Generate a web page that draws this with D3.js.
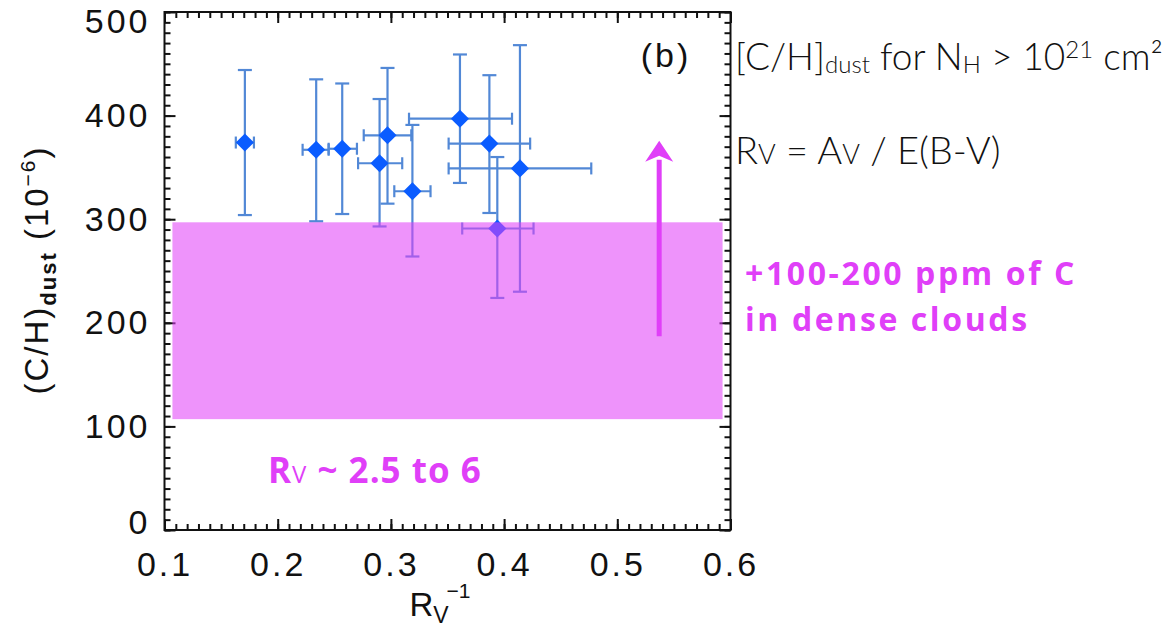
<!DOCTYPE html>
<html>
<head>
<meta charset="utf-8">
<script src="https://cdn.jsdelivr.net/npm/d3@7"></script>
<style>
  html, body { margin: 0; padding: 0; background: #ffffff; }
  svg { display: block; }
</style>
</head>
<body>
<svg id="chart" width="1171" height="632"></svg>
<script>
// Dust-phase carbon abundance against inverse R_V
const rvInv   = [0.171, 0.234, 0.257, 0.290, 0.297, 0.319, 0.361, 0.387, 0.394, 0.414];
const chDust  = [374, 367, 368, 354, 381, 327, 397, 373, 291, 349];
const chLow   = [304, 298, 305, 293, 315, 264, 335, 306, 224, 230];
const chHigh  = [444, 435, 431, 416, 446, 391, 459, 439, 360, 468];
const rvLow   = [0.163, 0.222, 0.245, 0.271, 0.276, 0.303, 0.316, 0.351, 0.363, 0.351];
const rvHigh  = [0.179, 0.245, 0.270, 0.310, 0.318, 0.335, 0.407, 0.423, 0.426, 0.477];

// Shaded range of dense-cloud carbon and the arrow beside it
const bandX = [0.107, 0.593];
const bandY = [107, 297];
const arrowX = 0.537;
const arrowY = [187, 369];

const xTicks = [0.1, 0.2, 0.3, 0.4, 0.5, 0.6];
const yTicks = [0, 100, 200, 300, 400, 500];

const svg = d3.select("#chart");
const x = d3.scaleLinear().domain([0.1, 0.6]).range([164.5, 730.5]);
const y = d3.scaleLinear().domain([0, 500]).range([530, 12]);

const magenta = "#e03ff8";
const barColor = "#5288d6";
const diamondColor = "#0a5cff";

// frame
svg.append("rect")
  .attr("x", x(0.1)).attr("y", y(500))
  .attr("width", x(0.6) - x(0.1)).attr("height", y(0) - y(500))
  .attr("fill", "none").attr("stroke", "#111").attr("stroke-width", 2);

const minorX = d3.range(0, 51).map(i => 0.1 + i * 0.01);
const minorY = d3.range(0, 51).map(i => i * 10);

function axisGroup(axis, tx, ty) {
  const g = svg.append("g").attr("transform", `translate(${tx},${ty})`).call(axis);
  g.select(".domain").remove();
  g.selectAll(".tick line").attr("stroke", "#111").attr("stroke-width", 2);
  return g;
}

// minor ticks, all four sides
axisGroup(d3.axisBottom(x).tickValues(minorX).tickSize(-6).tickFormat(""), 0, y(0));
axisGroup(d3.axisTop(x).tickValues(minorX).tickSize(-6).tickFormat(""), 0, y(500));
axisGroup(d3.axisLeft(y).tickValues(minorY).tickSize(-6).tickFormat(""), x(0.1), 0);
axisGroup(d3.axisRight(y).tickValues(minorY).tickSize(-6).tickFormat(""), x(0.6), 0);

// major ticks with labels on bottom and left
const fontAxis = "'Liberation Sans', Arial, sans-serif";
const gxb = axisGroup(d3.axisBottom(x).tickValues(xTicks).tickSize(-11).tickPadding(22).tickFormat(d3.format(".1f")), 0, y(0));
gxb.selectAll("text").attr("font-size", 34).attr("font-family", fontAxis).attr("fill", "#111").attr("letter-spacing", 3);
axisGroup(d3.axisTop(x).tickValues(xTicks).tickSize(-11).tickFormat(""), 0, y(500));
const gyl = axisGroup(d3.axisLeft(y).tickValues(yTicks).tickSize(-11).tickPadding(14).tickFormat(d3.format("d")), x(0.1), 0);
gyl.selectAll("text").attr("font-size", 34).attr("font-family", fontAxis).attr("fill", "#111").attr("letter-spacing", 3)
  .attr("transform", d => d === 500 ? "translate(0,10)" : d === 0 ? "translate(0,-7)" : null);
axisGroup(d3.axisRight(y).tickValues(yTicks).tickSize(-11).tickFormat(""), x(0.6), 0);

// error bars and markers
const pts = rvInv.map((v, i) => ({ x: v, y: chDust[i], ylo: chLow[i], yhi: chHigh[i], xlo: rvLow[i], xhi: rvHigh[i] }));
const eb = svg.append("g").attr("stroke", barColor).attr("stroke-width", 2.2).attr("fill", "none");
pts.forEach(p => {
  eb.append("line").attr("x1", x(p.x)).attr("x2", x(p.x)).attr("y1", y(p.ylo)).attr("y2", y(p.yhi));
  eb.append("line").attr("x1", x(p.x) - 7).attr("x2", x(p.x) + 7).attr("y1", y(p.ylo)).attr("y2", y(p.ylo));
  eb.append("line").attr("x1", x(p.x) - 7).attr("x2", x(p.x) + 7).attr("y1", y(p.yhi)).attr("y2", y(p.yhi));
  eb.append("line").attr("x1", x(p.xlo)).attr("x2", x(p.xhi)).attr("y1", y(p.y)).attr("y2", y(p.y));
  eb.append("line").attr("x1", x(p.xlo)).attr("x2", x(p.xlo)).attr("y1", y(p.y) - 6).attr("y2", y(p.y) + 6);
  eb.append("line").attr("x1", x(p.xhi)).attr("x2", x(p.xhi)).attr("y1", y(p.y) - 6).attr("y2", y(p.y) + 6);
});
svg.append("g").selectAll("path").data(pts).join("path")
  .attr("d", d3.symbol(d3.symbolDiamond2, 210))
  .attr("transform", d => `translate(${x(d.x)},${y(d.y)})`)
  .attr("fill", diamondColor);

// translucent band over the points
svg.append("rect")
  .attr("x", x(bandX[0])).attr("y", y(bandY[1]))
  .attr("width", x(bandX[1]) - x(bandX[0])).attr("height", y(bandY[0]) - y(bandY[1]))
  .attr("fill", magenta).attr("fill-opacity", 0.56);

// arrow
const ax = x(arrowX), ay0 = y(arrowY[0]), ay1 = y(arrowY[1]);
svg.append("line").attr("x1", ax).attr("x2", ax).attr("y1", ay0).attr("y2", ay1 + 12)
  .attr("stroke", magenta).attr("stroke-width", 5);
svg.append("path")
  .attr("d", `M${ax},${ay1 - 7} L${ax + 14},${ay1 + 14} L${ax},${ay1 + 8} L${ax - 14},${ay1 + 14} Z`)
  .attr("fill", magenta);

// panel tag
svg.append("text").attr("x", 666).attr("y", 67).attr("text-anchor", "middle")
  .attr("font-family", fontAxis).attr("font-size", 34).attr("letter-spacing", 3).attr("fill", "#111").text("(b)");

// axis titles
const yl = svg.append("text").attr("transform", "translate(48,270) rotate(-90)")
  .attr("text-anchor", "middle").attr("font-family", fontAxis).attr("font-size", 33).attr("fill", "#111").attr("letter-spacing", 2);
yl.append("tspan").text("(C/H)");
yl.append("tspan").attr("font-size", 22).attr("font-weight", "bold").attr("dy", 8).text("dust");
yl.append("tspan").attr("dy", -8).text(" (10");
yl.append("tspan").attr("font-size", 21).attr("dy", -13).text("−6");
yl.append("tspan").attr("dy", 13).text(")");

const xl = svg.append("text").attr("x", 440).attr("y", 616).attr("text-anchor", "middle")
  .attr("font-family", fontAxis).attr("font-size", 33).attr("fill", "#111");
xl.append("tspan").text("R");
xl.append("tspan").attr("font-size", 23).attr("dy", 7).text("V");
xl.append("tspan").attr("font-size", 21).attr("dy", -25).attr("dx", -2).text("−1");

// notes on the right
const fontNote = "Lato, 'Open Sans', sans-serif";
const t1 = svg.append("text").attr("x", 735).attr("y", 70).attr("font-family", fontNote)
  .attr("font-weight", 300).attr("font-size", 37).attr("fill", "#111");
t1.append("tspan").text("[C/H]");
t1.append("tspan").attr("font-size", 24).attr("dy", 3).text("dust");
t1.append("tspan").attr("dy", -3).text(" for N");
t1.append("tspan").attr("font-size", 24).attr("dy", 3).text("H");
t1.append("tspan").attr("dy", -3).text(" > 10");
t1.append("tspan").attr("font-size", 24).attr("dy", -12).text("21");
t1.append("tspan").attr("dy", 12).text(" cm²");

const t2 = svg.append("text").attr("x", 735).attr("y", 164).attr("font-family", fontNote)
  .attr("font-weight", 300).attr("font-size", 38).attr("fill", "#111");
t2.append("tspan").text("R");
t2.append("tspan").attr("font-size", 27).text("V");
t2.append("tspan").text(" = A");
t2.append("tspan").attr("font-size", 27).text("V");
t2.append("tspan").text(" / E(B-V)");

const fontPink = "'Open Sans', Lato, sans-serif";
svg.append("text").attr("x", 745).attr("y", 285).attr("font-family", fontPink)
  .attr("font-weight", "bold").attr("font-size", 32).attr("letter-spacing", 2.6).attr("fill", magenta).text("+100-200 ppm of C");
svg.append("text").attr("x", 745).attr("y", 331).attr("font-family", fontPink)
  .attr("font-weight", "bold").attr("font-size", 32).attr("letter-spacing", 2.6).attr("fill", magenta).text("in dense clouds");

const t3 = svg.append("text").attr("x", 268).attr("y", 483).attr("font-family", fontPink)
  .attr("font-weight", "bold").attr("font-size", 35).attr("letter-spacing", 1).attr("fill", magenta);
t3.append("tspan").text("R");
t3.append("tspan").attr("font-size", 24).attr("font-weight", "normal").text("V");
t3.append("tspan").text(" ~ 2.5 to 6");
</script>
</body>
</html>
